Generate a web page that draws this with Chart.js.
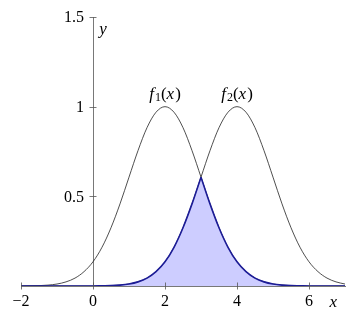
<!DOCTYPE html>
<html>
<head>
<meta charset="utf-8">
<script src="https://cdn.jsdelivr.net/npm/chart.js@4"></script>
<style>
  html, body { margin: 0; padding: 0; background: #fff; }
  #wrap { width: 351px; height: 318px; }
</style>
</head>
<body>
<div id="wrap"><canvas id="myChart"></canvas></div>
<script>
// values, step 0.25 on x
var xs = [-2, -1.75, -1.5, -1.25, -1, -0.75, -0.5, -0.25, 0, 0.25, 0.5, 0.75, 1, 1.25, 1.5, 1.75, 2,
          2.25, 2.5, 2.75, 3, 3.25, 3.5, 3.75, 4, 4.25, 4.5, 4.75, 5, 5.25, 5.5, 5.75, 6, 6.25, 6.5, 6.75, 7];
var f1 = [0, 0.001, 0.002, 0.005, 0.011, 0.023, 0.044, 0.080, 0.135, 0.216, 0.325, 0.458, 0.607, 0.755, 0.883, 0.969, 1,
          0.969, 0.883, 0.755, 0.607, 0.458, 0.325, 0.216, 0.135, 0.080, 0.044, 0.023, 0.011, 0.005, 0.002, 0.001, 0, 0, 0, 0, 0];
var f2 = [0, 0, 0, 0, 0, 0, 0, 0, 0, 0, 0, 0, 0.001, 0.002, 0.005, 0.011, 0.023, 0.044, 0.080, 0.135, 0.216, 0.325, 0.458, 0.607,
          0.755, 0.883, 0.969, 1, 0.969, 0.883, 0.755, 0.607, 0.458, 0.325, 0.216, 0.135, 0.080, 0.044, 0.023, 0.011];
// f2 is listed from x = -3; keep the part that lines up with xs
f2 = f2.slice(f2.length - xs.length);
var xTicks = [-2, 0, 2, 4, 6];
var yTicks = [0.5, 1, 1.5];
var cross = 3; // where the two curves meet

function pts(arr) { return xs.map(function (x, i) { return { x: x, y: arr[i] }; }); }
var left = [], right = [];
xs.forEach(function (x, i) {
  var p = { x: x, y: Math.min(f1[i], f2[i]) };
  if (x <= cross) left.push(p);
  if (x >= cross) right.push(p);
});

var serif = '"Liberation Serif", "DejaVu Serif", serif';

function minus(v) { return String(v).replace('-', '\u2212'); }

// draws a list of [text, italic, subscript] runs centred on (cx, cy)
function drawRuns(ctx, runs, cx, cy) {
  var w = 0;
  runs.forEach(function (r) {
    ctx.font = (r[1] ? 'italic ' : '') + (r[2] ? '12px ' : '17px ') + serif;
    r.w = ctx.measureText(r[0]).width + (r[1] ? 1 : 0);
    w += r.w;
  });
  var x = cx - w / 2;
  ctx.textBaseline = 'middle';
  ctx.textAlign = 'left';
  runs.forEach(function (r) {
    ctx.font = (r[1] ? 'italic ' : '') + (r[2] ? '12px ' : '17px ') + serif;
    ctx.fillText(r[0], x, cy + (r[2] ? 4 : 0));
    x += r.w;
  });
}

var labelsPlugin = {
  id: 'labels',
  afterDraw: function (chart) {
    var ctx = chart.ctx, sx = chart.scales.x, sy = chart.scales.y;
    var x0 = sx.getPixelForValue(0), y0 = sy.getPixelForValue(0);
    ctx.save();
    // tick marks crossing the axes
    ctx.strokeStyle = '#555';
    ctx.lineWidth = 0.8;
    ctx.beginPath();
    xTicks.forEach(function (v) {
      var px = Math.round(sx.getPixelForValue(v)) + 0.5;
      ctx.moveTo(px, y0 - 3.5); ctx.lineTo(px, y0 + 3.5);
    });
    yTicks.forEach(function (v) {
      var py = Math.round(sy.getPixelForValue(v)) + 0.5;
      ctx.moveTo(x0 - 3.5, py); ctx.lineTo(x0 + 3.5, py);
    });
    ctx.stroke();
    // y tick labels, left of the axis
    ctx.fillStyle = '#000';
    ctx.font = '16px ' + serif;
    ctx.textAlign = 'right';
    ctx.textBaseline = 'middle';
    yTicks.forEach(function (v) {
      ctx.fillText(minus(v), x0 - 9, sy.getPixelForValue(v) + 1);
    });
    drawRuns(ctx, [['f', true], ['1', false, true], ['(', false], ['x', true], [')', false]], sx.getPixelForValue(2), sy.getPixelForValue(1.07));
    drawRuns(ctx, [['f', true], ['2', false, true], ['(', false], ['x', true], [')', false]], sx.getPixelForValue(4), sy.getPixelForValue(1.07));
    drawRuns(ctx, [['y', true]], sx.getPixelForValue(0.29), sy.getPixelForValue(1.43));
    drawRuns(ctx, [['x', true]], sx.getPixelForValue(6.69), sy.getPixelForValue(-0.09));
    ctx.restore();
  }
};

var ctx = document.getElementById('myChart').getContext('2d');
var myChart = new Chart(ctx, {
  type: 'line',
  data: {
    datasets: [{
      data: left,
      borderColor: '#1c1c96',
      backgroundColor: 'rgba(200,200,255,0.9)',
      borderWidth: 1.6,
      fill: 'origin',
      cubicInterpolationMode: 'monotone'
    }, {
      data: right,
      borderColor: '#1c1c96',
      backgroundColor: 'rgba(200,200,255,0.9)',
      borderWidth: 1.6,
      fill: 'origin',
      cubicInterpolationMode: 'monotone'
    }, {
      data: pts(f1),
      borderColor: '#222',
      borderWidth: 0.8,
      fill: false,
      cubicInterpolationMode: 'monotone'
    }, {
      data: pts(f2),
      borderColor: '#222',
      borderWidth: 0.8,
      fill: false,
      cubicInterpolationMode: 'monotone'
    }]
  },
  options: {
    responsive: true,
    maintainAspectRatio: false,
    animation: false,
    layout: { padding: { left: 21, right: 6, top: 17, bottom: 32 } },
    elements: { point: { radius: 0 } },
    plugins: { legend: { display: false }, tooltip: { enabled: false } },
    scales: {
      x: {
        type: 'linear',
        min: -2,
        max: 7,
        position: { y: 0 },
        afterBuildTicks: function (s) { s.ticks = xTicks.map(function (v) { return { value: v }; }); },
        grid: { display: false, drawTicks: false },
        border: { display: true, color: '#555', width: 0.8 },
        ticks: {
          color: '#000', padding: 6, maxRotation: 0,
          font: { family: serif, size: 16 },
          callback: function (v) { return minus(v); }
        }
      },
      y: {
        type: 'linear',
        min: 0,
        max: 1.5,
        position: { x: 0 },
        grid: { display: false, drawTicks: false },
        border: { display: true, color: '#555', width: 0.8 },
        ticks: { display: false }
      }
    }
  },
  plugins: [labelsPlugin]
});
</script>
</body>
</html>
